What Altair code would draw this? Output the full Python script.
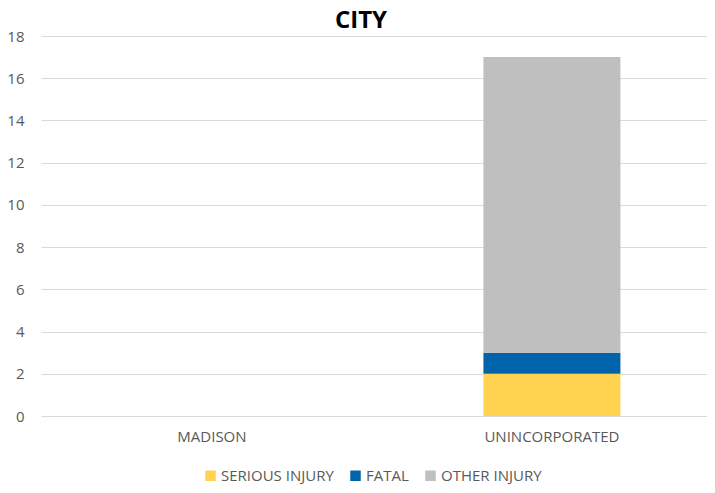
import altair as alt
import pandas as pd

cities = ["MADISON", "UNINCORPORATED"]
series = ["SERIOUS INJURY", "FATAL", "OTHER INJURY"]
serious_injury = [0, 2]
fatal = [0, 1]
other_injury = [0, 14]
colors = ["#FFD34F", "#0063AB", "#BFBFBF"]

rows = []
for i, c in enumerate(cities):
    for k, (s, vals) in enumerate(zip(series, [serious_injury, fatal, other_injury])):
        rows.append({"city": c, "type": s, "value": vals[i], "ord": k})
df = pd.DataFrame(rows)

FONT = "Open Sans"
LABEL_COLOR = "#595959"

chart = alt.Chart(df).mark_bar().encode(
    x=alt.X("city:N", sort=cities, title=None,
            scale=alt.Scale(paddingInner=0.597, paddingOuter=0.278, align=0.542),
            axis=alt.Axis(labelAngle=0, domain=False, ticks=False, labelPadding=13,
                          labelFontSize=15, labelColor=LABEL_COLOR, labelFont=FONT)),
    y=alt.Y("value:Q", title=None, stack="zero",
            scale=alt.Scale(domain=[0, 18], nice=False),
            axis=alt.Axis(values=list(range(0, 19, 2)), domain=False, ticks=False,
                          labelPadding=17, labelFontSize=15, labelColor=LABEL_COLOR,
                          labelFont=FONT, gridColor="#D9D9D9", gridWidth=1)),
    color=alt.Color("type:N", sort=series,
                    scale=alt.Scale(domain=series, range=colors),
                    legend=alt.Legend(title=None, orient="none", direction="horizontal",
                                      legendX=162, legendY=432, symbolType="square",
                                      symbolSize=110, symbolStrokeWidth=0,
                                      labelFontSize=15, labelColor=LABEL_COLOR,
                                      labelFont=FONT, columnPadding=14, labelOffset=3)),
    order=alt.Order("ord:Q", sort="ascending"),
).properties(
    width=666,
    height=380,
    title=alt.Title("CITY", fontSize=24, fontWeight="bold", font=FONT, color="#000000",
                    anchor="middle", dx=-13, dy=8, offset=4),
    autosize=alt.AutoSizeParams(type="none"),
    padding={"left": 33, "top": 28, "right": 0, "bottom": 69},
).configure_view(stroke=None)

chart.save("out.html", embed_options={"renderer": "svg", "actions": False})
